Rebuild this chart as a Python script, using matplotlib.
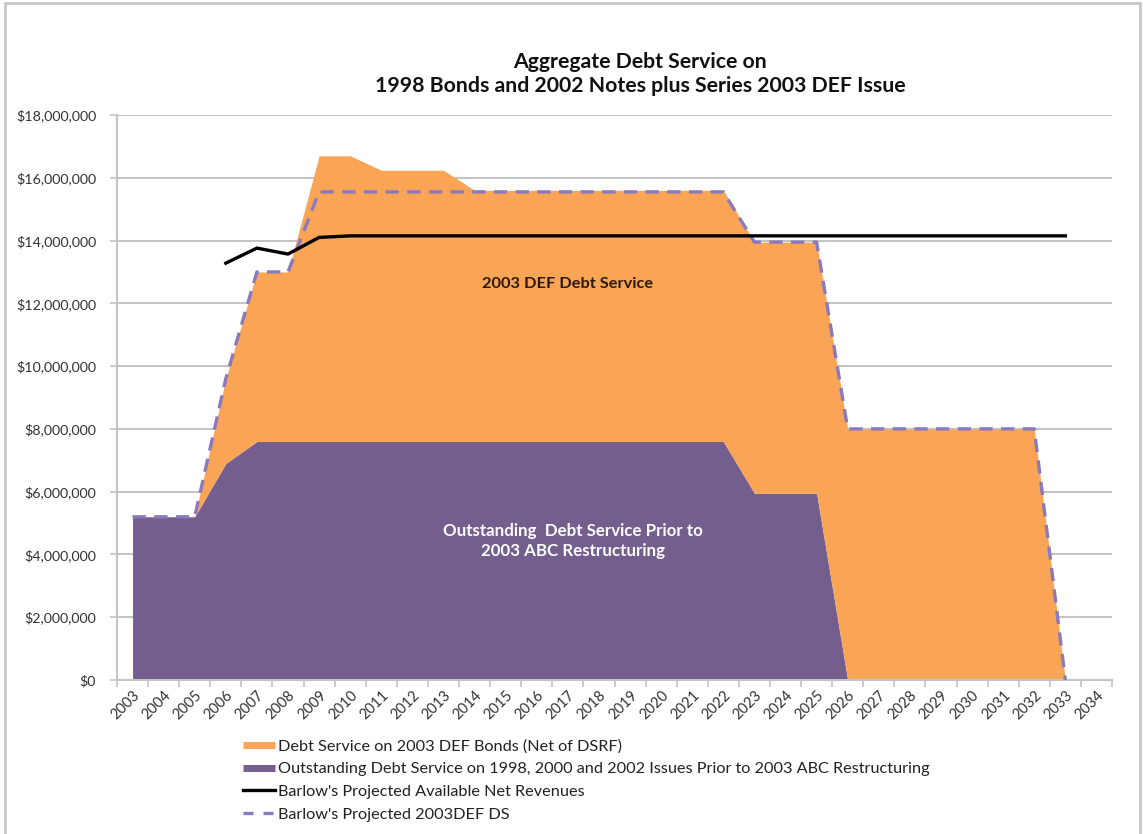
import numpy as np
import matplotlib
matplotlib.use("Agg")
import matplotlib.pyplot as plt
from matplotlib.lines import Line2D
from matplotlib.patches import Rectangle

# ── data ($) ─────────────────────────────────────────────────────────────────
YEARS = list(range(2003, 2035))

# outstanding debt service prior to 2003 ABC restructuring (bottom layer)
PRIOR_DS = [5.2e6, 5.2e6, 5.2e6, 6.9e6] + [7.6e6] * 16 + [5.95e6] * 3 + [0] * 8 + [np.nan]

# total of both layers (top edge of orange area)
TOTAL_DS = ([5.2e6, 5.2e6, 5.2e6, 9.6e6, 13.0e6, 13.0e6, 16.7e6, 16.7e6,
             16.24e6, 16.24e6, 16.24e6] + [15.6e6] * 9 + [13.95e6] * 3
            + [8.0e6] * 7 + [0, np.nan])

# Barlow's projected 2003DEF DS (dashed)
BARLOW_DS = ([5.2e6, 5.2e6, 5.2e6, 9.6e6, 13.0e6, 13.0e6] + [15.55e6] * 14
             + [13.95e6] * 3 + [8.0e6] * 7 + [0, np.nan])

# Barlow's projected available net revenues (black)
NET_REV = ([np.nan] * 3 + [13.28e6, 13.76e6, 13.57e6, 14.1e6]
           + [14.15e6] * 24 + [np.nan])

ORANGE = "#FAA556"
PURPLE = "#735E8D"
DASH = "#8B79BF"
GRID = "#C4C4C4"

plt.rcParams["font.family"] = ["Lato", "DejaVu Sans"]

fig = plt.figure(figsize=(11.43, 8.34), dpi=100)
ax = fig.add_axes([117 / 1143, 1 - 680 / 834, (1112 - 117) / 1143, (680 - 115) / 834])

x = np.arange(len(YEARS))
prior = np.array(PRIOR_DS, dtype=float)
total = np.array(TOTAL_DS, dtype=float)

ax.fill_between(x, 0, prior, color=PURPLE, lw=0, zorder=2)
ax.fill_between(x, prior, total, color=ORANGE, lw=0, zorder=2)
ax.plot(x, NET_REV, color="black", lw=2.4, zorder=4)
ax.plot(x, BARLOW_DS, color=DASH, lw=2.4, dashes=(4, 2.5), zorder=3)

ax.set_ylim(0, 18e6)
ax.set_xlim(-0.5, len(YEARS) - 0.5)
ax.set_yticks(np.arange(0, 18e6 + 1, 2e6))
ax.set_yticklabels([f"${v:,.0f}" for v in np.arange(0, 18e6 + 1, 2e6)],
                   fontsize=10.3, color="#333333")
ax.yaxis.grid(True, color=GRID, lw=1.5, zorder=0)
ax.set_axisbelow(True)

# tick marks between categories, labels on category centres
ax.set_xticks(x)
ax.set_xticklabels([str(y) for y in YEARS], rotation=45, ha="right",
                   rotation_mode="anchor", fontsize=10.5, color="#333333")
ax.tick_params(axis="x", length=0, pad=6)
ax.set_xticks(np.arange(-0.5, len(YEARS)), minor=True)
ax.tick_params(axis="x", which="minor", length=5, color=GRID, width=1.2)
ax.tick_params(axis="y", length=5, color=GRID, width=1.2, pad=10)

for s in ["top", "right"]:
    ax.spines[s].set_visible(False)
for s in ["left", "bottom"]:
    ax.spines[s].set_color(GRID)
    ax.spines[s].set_linewidth(1.5)

ax.text(14.0, 12.6e6, "2003 DEF Debt Service", ha="center", va="center",
        fontsize=11.8, fontweight="bold", color="#2a1a0a", zorder=5)
ax.text(14.15, 4.43e6, "Outstanding  Debt Service Prior to\n2003 ABC Restructuring",
        ha="center", va="center", fontsize=12.2, fontweight="bold", color="white",
        linespacing=1.3, zorder=5)

fig.text(0.56, 1 - 74 / 834,
         "Aggregate Debt Service on\n1998 Bonds and 2002 Notes plus Series 2003 DEF Issue",
         ha="center", va="center", fontsize=15.3, fontweight="bold", color="#111111",
         linespacing=1.2)

handles = [
    Line2D([], [], color=ORANGE, lw=5, solid_capstyle="butt"),
    Line2D([], [], color=PURPLE, lw=5, solid_capstyle="butt"),
    Line2D([], [], color="black", lw=2.4),
    Line2D([], [], color=DASH, lw=2.4, dashes=(3, 3)),
]
labels = [
    "Debt Service on 2003 DEF Bonds (Net of DSRF)",
    "Outstanding Debt Service on 1998, 2000 and 2002 Issues Prior to 2003 ABC Restructuring",
    "Barlow's Projected Available Net Revenues",
    "Barlow's Projected 2003DEF DS",
]
fig.legend(handles, labels, loc="upper left", bbox_to_anchor=(235 / 1143, 1 - 731 / 834),
           frameon=False, fontsize=11.7, handlelength=1.95, handletextpad=0.2,
           labelspacing=0.52, borderpad=0, labelcolor="#222222")

# outer chart frame
fig.patches.append(Rectangle((5 / 1143, -0.02), 1135 / 1143, 1 - 3 / 834 + 0.02,
                             transform=fig.transFigure, fill=False,
                             edgecolor="#C8C8C8", lw=2))

fig.savefig("out.png", dpi=100)
